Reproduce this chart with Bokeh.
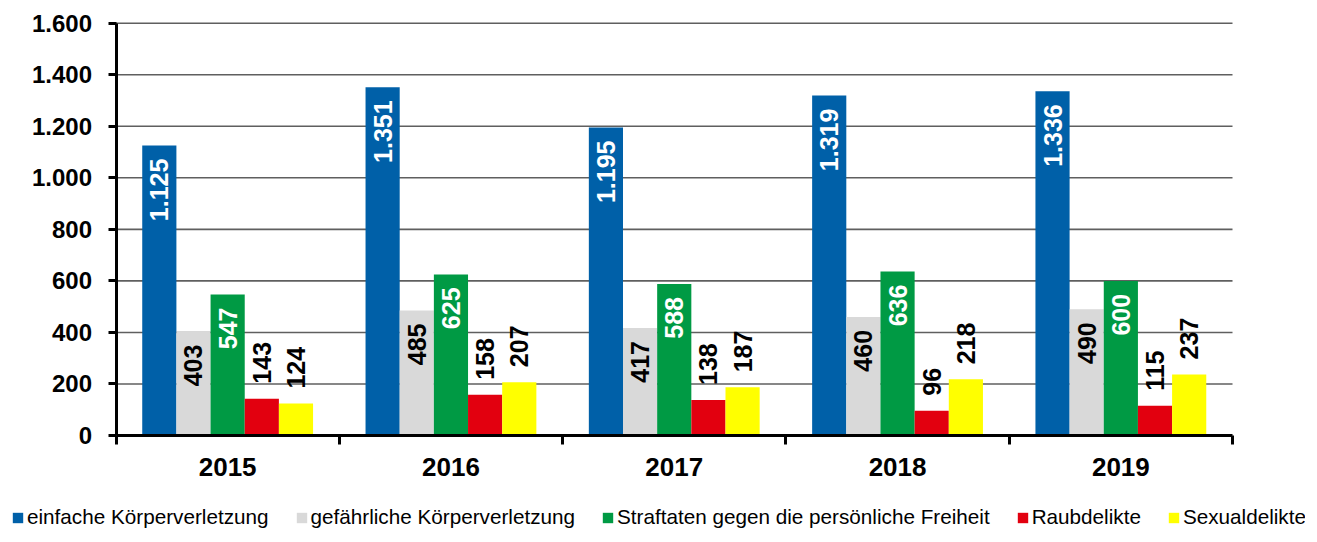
import math
from bokeh.plotting import figure
from bokeh.models import (ColumnDataSource, Range1d, FixedTicker, Legend, LegendItem, LinearAxis)
from bokeh.core.properties import value
from bokeh.embed import file_html
from bokeh.resources import INLINE

# ---- data ----
years = ["2015", "2016", "2017", "2018", "2019"]
series_names = ["einfache Körperverletzung", "gefährliche Körperverletzung",
                "Straftaten gegen die persönliche Freiheit", "Raubdelikte", "Sexualdelikte"]
einfache = [1125, 1351, 1195, 1319, 1336]
gefaehrlich = [403, 485, 417, 460, 490]
freiheit = [547, 625, 588, 636, 600]
raub = [143, 158, 138, 96, 115]
sexual = [124, 207, 187, 218, 237]
y_ticks = [0, 200, 400, 600, 800, 1000, 1200, 1400, 1600]
y_tick_labels = ["0", "200", "400", "600", "800", "1.000", "1.200", "1.400", "1.600"]

series_values = [einfache, gefaehrlich, freiheit, raub, sexual]
colors = ["#0060A8", "#D9D9D9", "#009A44", "#E2000F", "#FFFF00"]
label_colors = ["white", "black", "white", "black", "black"]
label_inside = [True, True, True, False, False]

FONT = "Liberation Sans"

# ---- layout (pixels) ----
W, H = 1305, 534
PX_LEFT, PX_RIGHT = 115.5, 1232.0   # plot area left/right
PX_ZERO, PX_TOP = 435.0, 22.7       # y=0 and y=max
n = len(years)
ymax = y_ticks[-1]
xs_per_px = n / (PX_RIGHT - PX_LEFT)
ys_per_px = ymax / (PX_ZERO - PX_TOP)
x_range = Range1d(-PX_LEFT * xs_per_px, n + (W - PX_RIGHT) * xs_per_px)
y_range = Range1d(-(H - PX_ZERO) * ys_per_px, ymax + PX_TOP * ys_per_px)

p = figure(width=W, height=H, output_backend="svg", toolbar_location=None,
           x_range=x_range, y_range=y_range, min_border=0,
           x_axis_location=None, y_axis_location=None)
p.outline_line_color = None
p.background_fill_color = "white"
p.border_fill_color = "white"
p.xgrid.visible = False
p.ygrid.visible = False

# gridlines (limited to plot area)
p.segment(x0=[0] * (len(y_ticks) - 1), x1=[n] * (len(y_ticks) - 1),
          y0=y_ticks[1:], y1=y_ticks[1:], line_color="#5F5F5F", line_width=1.6)

bar_w = 0.153

def fmt(v):
    return f"{v:,}".replace(",", ".")

renderers = []
for j, vals in enumerate(series_values):
    xs = [i + 0.5 + (j - 2) * bar_w for i in range(n)]
    src = ColumnDataSource(dict(x=xs, top=vals, lab=[fmt(v) for v in vals]))
    r = p.vbar(x="x", top="top", width=bar_w, bottom=0, source=src,
               fill_color=colors[j], line_color=None)
    renderers.append(r)
    if label_inside[j]:
        p.text(x="x", y="top", text="lab", source=src, angle=math.pi / 2,
               text_align="right", text_baseline="middle", y_offset=13,
               text_font=value(FONT), text_font_style="bold", text_font_size="25px",
               text_color=label_colors[j])
    else:
        p.text(x="x", y="top", text="lab", source=src, angle=math.pi / 2,
               text_align="left", text_baseline="middle", y_offset=-15,
               text_font=value(FONT), text_font_style="bold", text_font_size="25px",
               text_color=label_colors[j])

# ---- axes ----
xa = LinearAxis(fixed_location=0, bounds=(0, n))
xa.ticker = FixedTicker(ticks=[i + 0.5 for i in range(n)], minor_ticks=list(range(n + 1)))
xa.major_label_overrides = {i + 0.5: y for i, y in enumerate(years)}
xa.major_tick_out = 0
xa.major_tick_in = 0
xa.minor_tick_out = 9
xa.minor_tick_in = 0
xa.minor_tick_line_color = "black"
xa.minor_tick_line_width = 3
xa.axis_line_color = "black"
xa.axis_line_width = 3
xa.major_label_standoff = 13
xa.major_label_text_font = FONT
xa.major_label_text_font_style = "bold"
xa.major_label_text_font_size = "26px"
xa.major_label_text_color = "black"
p.add_layout(xa, "below")

ya = LinearAxis(fixed_location=0, bounds=(0, ymax))
ya.ticker = FixedTicker(ticks=y_ticks, minor_ticks=[])
ya.major_label_overrides = {t: l for t, l in zip(y_ticks, y_tick_labels)}
ya.major_tick_out = 8
ya.major_tick_in = 0
ya.major_tick_line_width = 3
ya.major_tick_line_color = "black"
ya.minor_tick_out = 0
ya.minor_tick_in = 0
ya.axis_line_color = "black"
ya.axis_line_width = 3
ya.major_label_standoff = 16
ya.major_label_text_font = FONT
ya.major_label_text_font_style = "bold"
ya.major_label_text_font_size = "24px"
ya.major_label_text_color = "black"
p.add_layout(ya, "left")

# ---- legend ----
items = [LegendItem(label=nm, renderers=[r]) for nm, r in zip(series_names, renderers)]
legend = Legend(items=items, orientation="horizontal", location=(11, 5),
                label_text_font=FONT, label_text_font_size="20.7px", label_text_color="black",
                glyph_width=13, glyph_height=13, label_standoff=3, spacing=26,
                padding=0, margin=0, border_line_color=None, background_fill_alpha=0,
                label_height=24)
p.add_layout(legend, "center")

open("out.html", "w").write(file_html(p, INLINE))
